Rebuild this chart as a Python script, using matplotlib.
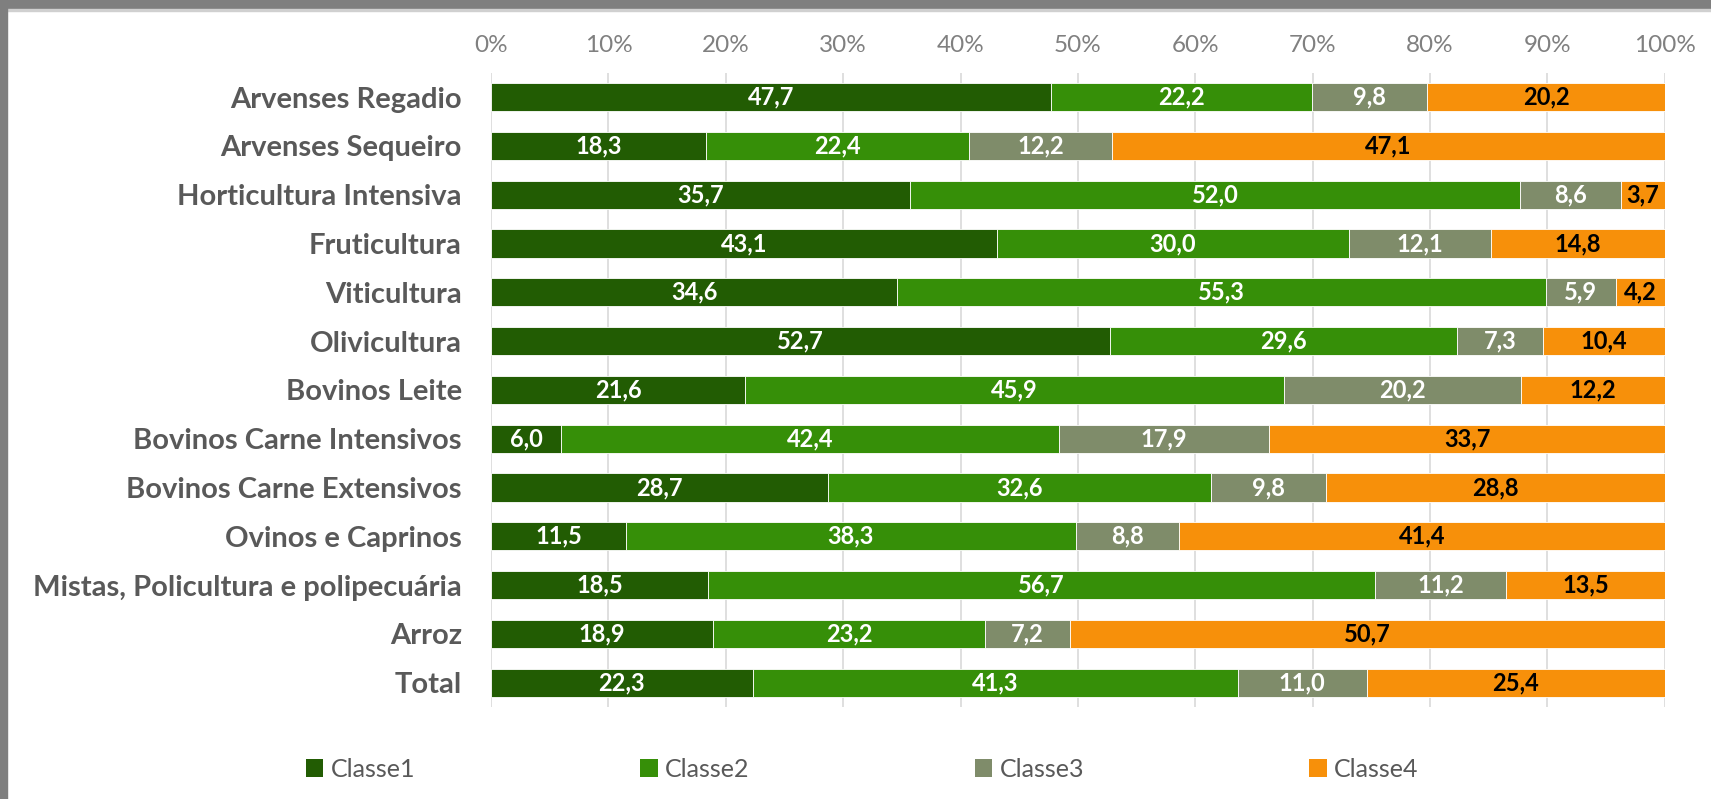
import matplotlib
matplotlib.use("Agg")
import matplotlib.pyplot as plt
import numpy as np
from matplotlib.patches import Rectangle
from matplotlib.ticker import PercentFormatter

plt.rcParams['font.family'] = ['Lato', 'DejaVu Sans']

# -----------------------------------------------------------
# data
# -----------------------------------------------------------
categories = [
    "Arvenses Regadio", "Arvenses Sequeiro", "Horticultura Intensiva",
    "Fruticultura", "Viticultura", "Olivicultura", "Bovinos Leite",
    "Bovinos Carne Intensivos", "Bovinos Carne Extensivos",
    "Ovinos e Caprinos", "Mistas, Policultura e polipecuária", "Arroz", "Total",
]
classe1 = [47.7, 18.3, 35.7, 43.1, 34.6, 52.7, 21.6, 6.0, 28.7, 11.5, 18.5, 18.9, 22.3]
classe2 = [22.2, 22.4, 52.0, 30.0, 55.3, 29.6, 45.9, 42.4, 32.6, 38.3, 56.7, 23.2, 41.3]
classe3 = [9.8, 12.2, 8.6, 12.1, 5.9, 7.3, 20.2, 17.9, 9.8, 8.8, 11.2, 7.2, 11.0]
classe4 = [20.2, 47.1, 3.7, 14.8, 4.2, 10.4, 12.2, 33.7, 28.8, 41.4, 13.5, 50.7, 25.4]
series_names = ["Classe1", "Classe2", "Classe3", "Classe4"]

colors = ["#225c03", "#368f08", "#7f8c6a", "#f7900a"]
label_colors = ["white", "white", "white", "black"]

series = np.array([classe1, classe2, classe3, classe4])
totals = series.sum(axis=0)
shares = series / totals * 100  # 100% stacked, like the original

# -----------------------------------------------------------
# figure
# -----------------------------------------------------------
fig = plt.figure(figsize=(17.11, 7.99), dpi=100)
ax = fig.add_axes([0.287, 0.115, 0.686, 0.794])

y = np.arange(len(categories))
left = np.zeros(len(categories))
for k in range(4):
    bars = ax.barh(y, shares[k], left=left, height=0.58, color=colors[k],
                   edgecolor="white", linewidth=0.6, label=series_names[k],
                   zorder=3)
    for i, b in enumerate(bars):
        ax.text(b.get_x() + b.get_width() / 2, b.get_y() + b.get_height() / 2,
                f"{series[k][i]:.1f}".replace(".", ","),
                ha="center", va="center", color=label_colors[k],
                fontsize=17, fontweight="bold", zorder=4)
    left += shares[k]

ax.set_xlim(0, 100)
ax.set_ylim(len(categories) - 0.5, -0.5)
ax.set_yticks(y)
ax.set_yticklabels(categories, fontsize=21, fontweight="bold", color="#595959")
ax.xaxis.set_major_formatter(PercentFormatter(decimals=0))
ax.set_xticks(np.arange(0, 101, 10))
ax.xaxis.tick_top()
ax.tick_params(axis="x", length=0, pad=12, labelsize=17.5, labelcolor="#808080")
ax.tick_params(axis="y", length=0, pad=21)
ax.grid(axis="x", color="#d9d9d9", linewidth=1.2, zorder=0)
for s in ax.spines.values():
    s.set_visible(False)

leg = fig.legend(loc="center", bbox_to_anchor=(0.504, 0.037), ncol=4,
                 frameon=False, fontsize=18, handlelength=0.7,
                 handleheight=0.7, handletextpad=0.3, columnspacing=9)
for t in leg.get_texts():
    t.set_color("#595959")
for h in leg.legend_handles:
    h.set_edgecolor("none")

# grey frame of the screenshot (top and left)
fig.add_artist(Rectangle((0, 1 - 9 / 799), 1, 9 / 799, transform=fig.transFigure,
                         color="#7f7f7f", zorder=10))
fig.add_artist(Rectangle((0, 1 - 11 / 799), 1, 2 / 799, transform=fig.transFigure,
                         color="#d0d0d0", zorder=10))
fig.add_artist(Rectangle((0, 0), 7 / 1711, 1, transform=fig.transFigure,
                         color="#7f7f7f", zorder=10))

fig.savefig("out.png", dpi=100)
